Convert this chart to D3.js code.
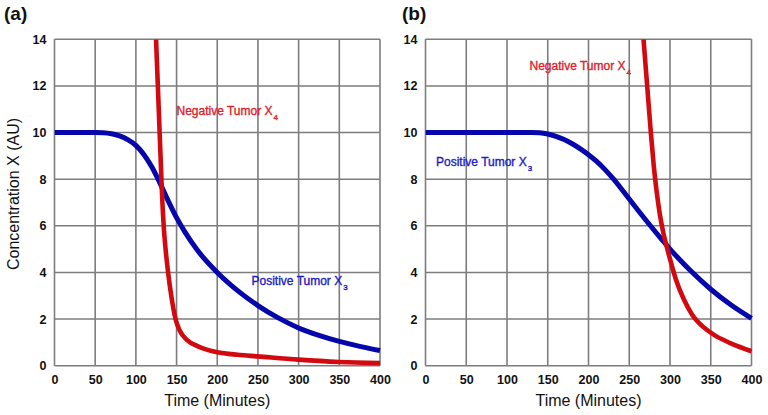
<!DOCTYPE html>
<html>
<head>
<meta charset="utf-8">
<script src="https://cdn.jsdelivr.net/npm/d3@7"></script>
<style>
  html, body { margin: 0; padding: 0; background: #fff; }
  svg { display: block; font-family: "Liberation Sans", Arial, Helvetica, sans-serif; }
</style>
</head>
<body>
<svg id="chart" width="768" height="415"></svg>
<script>
// ---- Data ----
const xTicks = [0, 50, 100, 150, 200, 250, 300, 350, 400];
const yTicks = [0, 2, 4, 6, 8, 10, 12, 14];

// Panel (a)
const aPositiveT = [0, 50, 60, 70, 80, 90, 100, 110, 120, 130, 140, 150, 160, 175, 200, 225, 250, 275, 300, 325, 350, 375, 400];
const aPositiveX = [10, 10, 9.99, 9.95, 9.86, 9.7, 9.45, 9.05, 8.5, 7.8, 7.05, 6.35, 5.75, 4.98, 4.0, 3.22, 2.58, 2.05, 1.62, 1.3, 1.04, 0.83, 0.65];
const aNegativeT = [124.8, 127, 129.2, 131.4, 132.6, 134.2, 136.5, 139.6, 143.5, 148.7, 154, 163, 175, 188, 200, 225, 250, 300, 350, 400];
const aNegativeX = [14, 12, 10, 8, 7, 6, 5, 4, 3, 2, 1.5, 1.1, 0.85, 0.68, 0.58, 0.47, 0.4, 0.26, 0.16, 0.11];

// Panel (b)
const bPositiveT = [0, 100, 130, 140, 150, 160, 170, 180, 190, 200, 210, 220, 230, 240, 250, 260, 270, 280, 290, 300, 310, 325, 350, 375, 400];
const bPositiveX = [10, 10, 10, 9.99, 9.94, 9.84, 9.7, 9.52, 9.3, 9.05, 8.76, 8.42, 8.03, 7.6, 7.15, 6.7, 6.26, 5.83, 5.41, 5.0, 4.62, 4.08, 3.28, 2.6, 2.03];
const bNegativeT = [267.5, 272, 276.5, 280, 283.5, 287.5, 291.5, 296, 301, 308, 316.5, 327, 333, 339, 355, 374, 400];
const bNegativeX = [14, 12, 10, 8.6, 7.5, 6.5, 5.75, 5.1, 4.45, 3.62, 2.88, 2.2, 1.93, 1.72, 1.3, 0.97, 0.62];

const panels = [
  { id: "a", tag: "(a)", x0: 54.5, x1: 380,
    pos: { t: aPositiveT, v: aPositiveX }, neg: { t: aNegativeT, v: aNegativeX },
    negLabel: { x: 176.5, y: 115 }, posLabel: { x: 251.5, y: 285 },
    tagPos: { x: 4, y: 20 }, yTitle: true },
  { id: "b", tag: "(b)", x0: 425.5, x1: 751.5,
    pos: { t: bPositiveT, v: bPositiveX }, neg: { t: bNegativeT, v: bNegativeX },
    negLabel: { x: 529.5, y: 70 }, posLabel: { x: 436, y: 166 },
    tagPos: { x: 402, y: 20 }, yTitle: false }
];

const svg = d3.select("#chart");
const yTop = 39.3, yBottom = 365.7;
const gridColor = "#7d7d7d";
const blue = "#0606ad";
const red = "#d20a10";

panels.forEach(p => {
  const x = d3.scaleLinear().domain([0, 400]).range([p.x0, p.x1]);
  const y = d3.scaleLinear().domain([0, 14]).range([yBottom, yTop]);
  const g = svg.append("g");

  // grid
  g.selectAll(".vg").data(xTicks).enter().append("line")
    .attr("x1", d => x(d)).attr("x2", d => x(d))
    .attr("y1", yTop).attr("y2", yBottom)
    .attr("stroke", gridColor).attr("stroke-width", 1.6);
  g.selectAll(".hg").data(yTicks).enter().append("line")
    .attr("x1", p.x0).attr("x2", p.x1)
    .attr("y1", d => y(d)).attr("y2", d => y(d))
    .attr("stroke", gridColor).attr("stroke-width", 1.6);

  // axes tick labels
  const xAxis = d3.axisBottom(x).tickValues(xTicks).tickSize(0).tickPadding(9);
  const xa = g.append("g").attr("transform", `translate(0,${yBottom})`).call(xAxis);
  xa.select(".domain").remove();
  xa.selectAll("text").attr("font-size", 12.5).attr("font-weight", "bold")
    .attr("fill", "#111").attr("font-family", "Liberation Sans, Arial, sans-serif");

  const yAxis = d3.axisLeft(y).tickValues(yTicks).tickSize(0).tickPadding(8);
  const ya = g.append("g").attr("transform", `translate(${p.x0},0)`).call(yAxis);
  ya.select(".domain").remove();
  ya.selectAll("text").attr("font-size", 12.5).attr("font-weight", "bold")
    .attr("fill", "#111").attr("font-family", "Liberation Sans, Arial, sans-serif");

  // clip
  g.append("clipPath").attr("id", "clip-" + p.id).append("rect")
    .attr("x", p.x0).attr("y", yTop).attr("width", p.x1 - p.x0 + 4).attr("height", yBottom - yTop);

  const line = d3.line().x(d => x(d[0])).y(d => y(d[1])).curve(d3.curveMonotoneX);
  const posData = p.pos.t.map((t, i) => [t, p.pos.v[i]]);
  const negData = p.neg.t.map((t, i) => [t, p.neg.v[i]]);

  g.append("path").datum(posData).attr("d", line)
    .attr("fill", "none").attr("stroke", blue).attr("stroke-width", 5)
    .attr("clip-path", `url(#clip-${p.id})`);
  g.append("path").datum(negData).attr("d", line)
    .attr("fill", "none").attr("stroke", red).attr("stroke-width", 4.6)
    .attr("clip-path", `url(#clip-${p.id})`);

  // series labels
  const nl = g.append("text").attr("x", p.negLabel.x).attr("y", p.negLabel.y)
    .attr("fill", "#e0202a").attr("stroke", "#e0202a").attr("stroke-width", 0.35)
    .attr("font-size", 12);
  nl.append("tspan").text("Negative Tumor X");
  nl.append("tspan").attr("font-size", 8).attr("dy", 5).attr("dx", 1).text("4");

  const pl = g.append("text").attr("x", p.posLabel.x).attr("y", p.posLabel.y)
    .attr("fill", "#1c1cc8").attr("stroke", "#1c1cc8").attr("stroke-width", 0.35)
    .attr("font-size", 12);
  pl.append("tspan").text("Positive Tumor X");
  pl.append("tspan").attr("font-size", 8).attr("dy", 5).attr("dx", 1).text("3");

  // panel tag
  g.append("text").attr("x", p.tagPos.x).attr("y", p.tagPos.y)
    .attr("font-size", 19).attr("font-weight", "bold").attr("fill", "#111").text(p.tag);

  // x title
  g.append("text").attr("x", (p.x0 + p.x1) / 2).attr("y", 406)
    .attr("text-anchor", "middle").attr("font-size", 16).attr("fill", "#111")
    .text("Time (Minutes)");

  if (p.yTitle) {
    g.append("text").attr("transform", `translate(19,194) rotate(-90)`)
      .attr("text-anchor", "middle").attr("font-size", 16).attr("fill", "#111")
      .text("Concentration X (AU)");
  }
});
</script>
</body>
</html>
